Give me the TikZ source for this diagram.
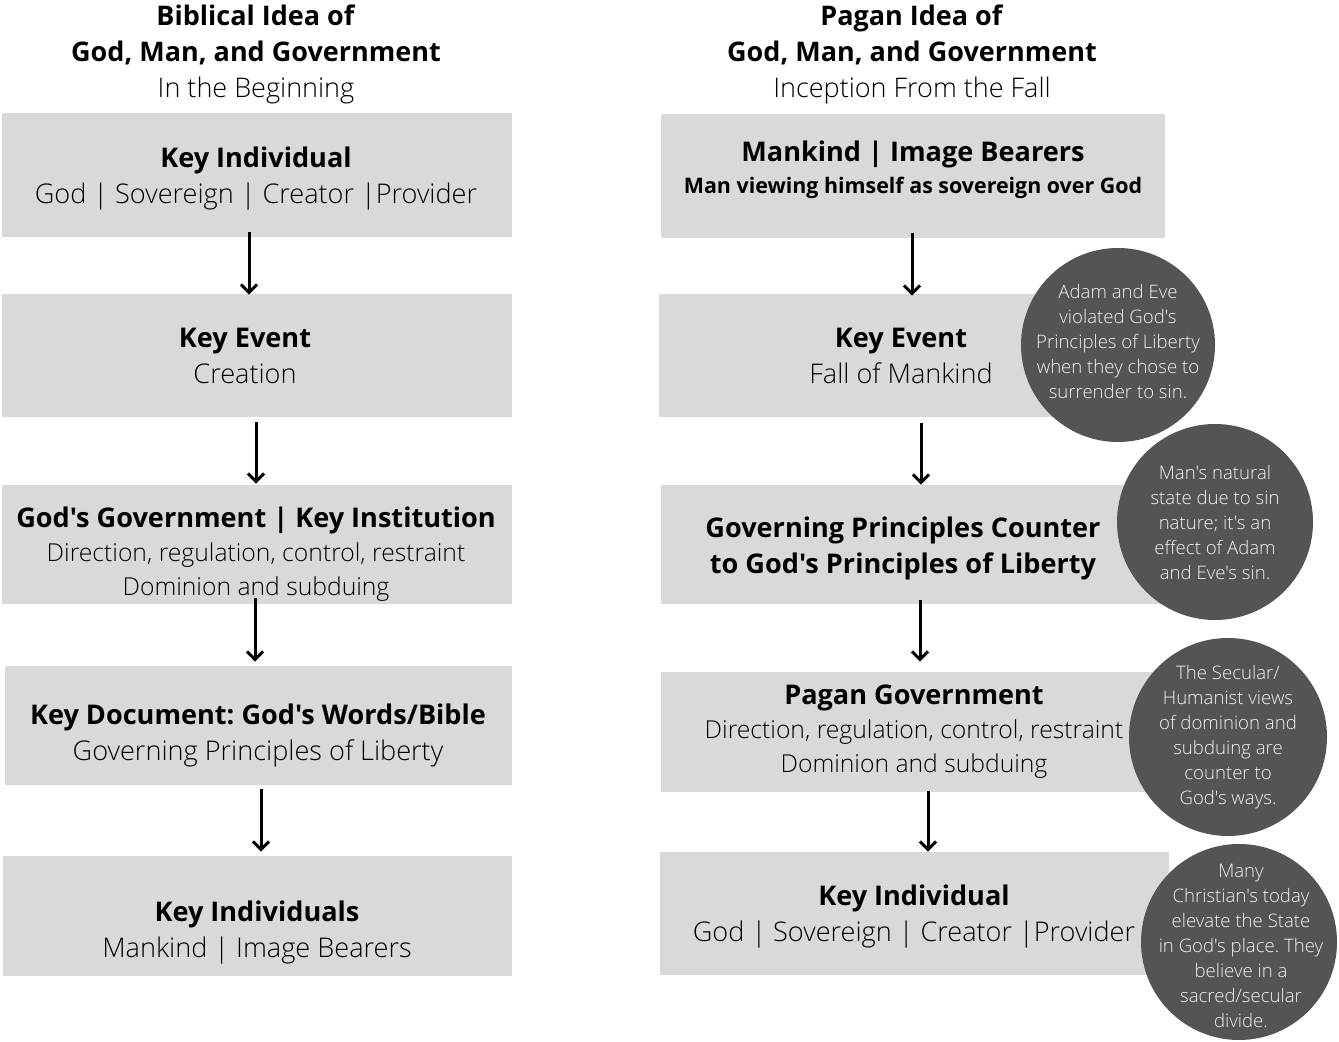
\documentclass[tikz,border=0pt]{standalone}
\usepackage{fontspec}
\setmainfont{Open Sans Light}[BoldFont=Open Sans Bold, Ligatures=TeXOff]
\frenchspacing
\usetikzlibrary{arrows.meta, positioning}

\definecolor{boxgray}{HTML}{D9D9D9}
\definecolor{notegray}{HTML}{545454}
\definecolor{notetext}{HTML}{F2F2F2}

\begin{document}
\begin{tikzpicture}[
    x=0.5pt, y=-0.5pt,
    gray box/.style={
        rectangle,
        fill=boxgray,
        inner sep=0pt,
        minimum width=255pt,
    },
    box text/.style={
        align=center,
        inner sep=0pt,
        font=\fontsize{13.55}{18}\selectfont,
    },
    small text/.style={
        box text,
        font=\fontsize{12.35}{17}\selectfont,
    },
    title text/.style={
        align=center,
        inner sep=0pt,
        font=\fontsize{13.5}{18}\selectfont,
    },
    note circle/.style={
        circle,
        fill=notegray,
        text=notetext,
        inner sep=-30pt,
        align=center,
        font=\fontsize{9.3}{12.5}\selectfont,
    },
    flow arrow/.style={
        line width=1.5pt,
        -{Straight Barb[length=4pt,width=8pt]},
    }
]
\useasboundingbox (0,0) rectangle (1339,1042);

\node[title text] (ltitle) at (256,54) {\textbf{Biblical Idea of}\\\textbf{God, Man, and Government}\\In the Beginning};
\node[title text] (rtitle) at (912,54) {\textbf{Pagan Idea of}\\\textbf{God, Man, and Government}\\Inception From the Fall};

\node[gray box, minimum height=62pt] (l1) at (257,175) {};
\node[gray box, minimum height=61.5pt] (l2) at (257,355.5) {};
\node[gray box, minimum height=59.5pt] (l3) at (257,544.5) {};
\node[gray box, minimum height=59.5pt, minimum width=253.5pt] (l4) at (258.5,725.5) {};
\node[gray box, minimum height=60pt, minimum width=254.5pt] (l5) at (257.5,916) {};

\node[gray box, minimum height=62pt, minimum width=252pt] (r1) at (913,176) {};
\node[gray box, minimum height=61.5pt, minimum width=253.5pt] (r2) at (912.5,355.5) {};
\node[gray box, minimum height=59.5pt, minimum width=252.5pt] (r3) at (913.5,544.5) {};
\node[gray box, minimum height=60pt, minimum width=252.5pt] (r4) at (913.5,732) {};
\node[gray box, minimum height=61.5pt, minimum width=254.5pt] (r5) at (914.5,913.5) {};

\node[box text] (l1t) at (256,179) {\textbf{Key Individual}\\God | Sovereign | Creator |Provider};
\node[box text] (l2t) at (245,356) {\textbf{Key Event}\\Creation};
\node[small text] (l3t) at (256,554) {{\fontsize{13.55}{17}\selectfont\textbf{God's Government | Key Institution}}\\Direction, regulation, control, restraint\\Dominion and subduing};
\node[box text] (l4t) at (258,735) {\textbf{Key Document: God's Words/Bible}\\Governing Principles of Liberty};
\node[box text] (l5t) at (257,933) {\textbf{Key Individuals}\\Mankind | Image Bearers};

\node[box text] (r1t) at (913,170) {\textbf{Mankind | Image Bearers}\\[-2pt]\fontsize{10.7}{15.5}\selectfont\textbf{Man viewing himself as sovereign over God}};
\node[box text] (r2t) at (901,356) {\textbf{Key Event}\\Fall of Mankind};
\node[box text] (r3t) at (903,548) {\textbf{Governing Principles Counter}\\\textbf{to God's Principles of Liberty}};
\node[small text] (r4t) at (914,732) {{\fontsize{13.55}{17}\selectfont\textbf{Pagan Government}}\\Direction, regulation, control, restraint\\Dominion and subduing};
\node[box text] (r5t) at (914,917) {\textbf{Key Individual}\\God | Sovereign | Creator |Provider};

\draw[flow arrow] ([shift={(-8,-5)}]l1.south) -- ([shift={(-8,1)}]l2.north);
\draw[flow arrow] ([shift={(-1,5)}]l2.south) -- ([shift={(-1,-1)}]l3.north);
\draw[flow arrow] ([shift={(-2,-6)}]l3.south) -- ([shift={(-3.5,-4)}]l4.north);
\draw[flow arrow] ([shift={(2.5,4)}]l4.south) -- ([shift={(3.5,-4)}]l5.north);

\draw[flow arrow] ([shift={(-1,-5)}]r1.south) -- ([shift={(-0.5,2)}]r2.north);
\draw[flow arrow] ([shift={(8.5,6)}]r2.south) -- ([shift={(7.5,0)}]r3.north);
\draw[flow arrow] ([shift={(6.5,-4)}]r3.south) -- ([shift={(6.5,-10)}]r4.north);
\draw[flow arrow] ([shift={(14.5,-1)}]r4.south) -- ([shift={(13.5,0)}]r5.north);

\node[note circle, minimum size=97pt] (n1) at (1118,345) {};
\node[note circle, minimum size=98pt] (n2) at (1215,522) {};
\node[note circle, minimum size=99pt] (n3) at (1228,737) {};
\node[note circle, minimum size=98pt] (n4) at (1239,942) {};
\node[note circle, fill=none] (n1t) at (1118,342) {Adam and Eve\\violated God's\\Principles of Liberty\\when they chose to\\surrender to sin.};
\node[note circle, fill=none] (n2t) at (1215,523) {Man's natural\\state due to sin\\nature; it's an\\effect of Adam\\and Eve's sin.};
\node[note circle, fill=none] (n3t) at (1228,737) {The Secular/\\Humanist views\\of dominion and\\subduing are\\counter to\\God's ways.};
\node[note circle, fill=none] (n4t) at (1241,946) {Many\\Christian's today\\elevate the State\\in God's place. They\\believe in a\\sacred/secular\\divide.};
\end{tikzpicture}
\end{document}
